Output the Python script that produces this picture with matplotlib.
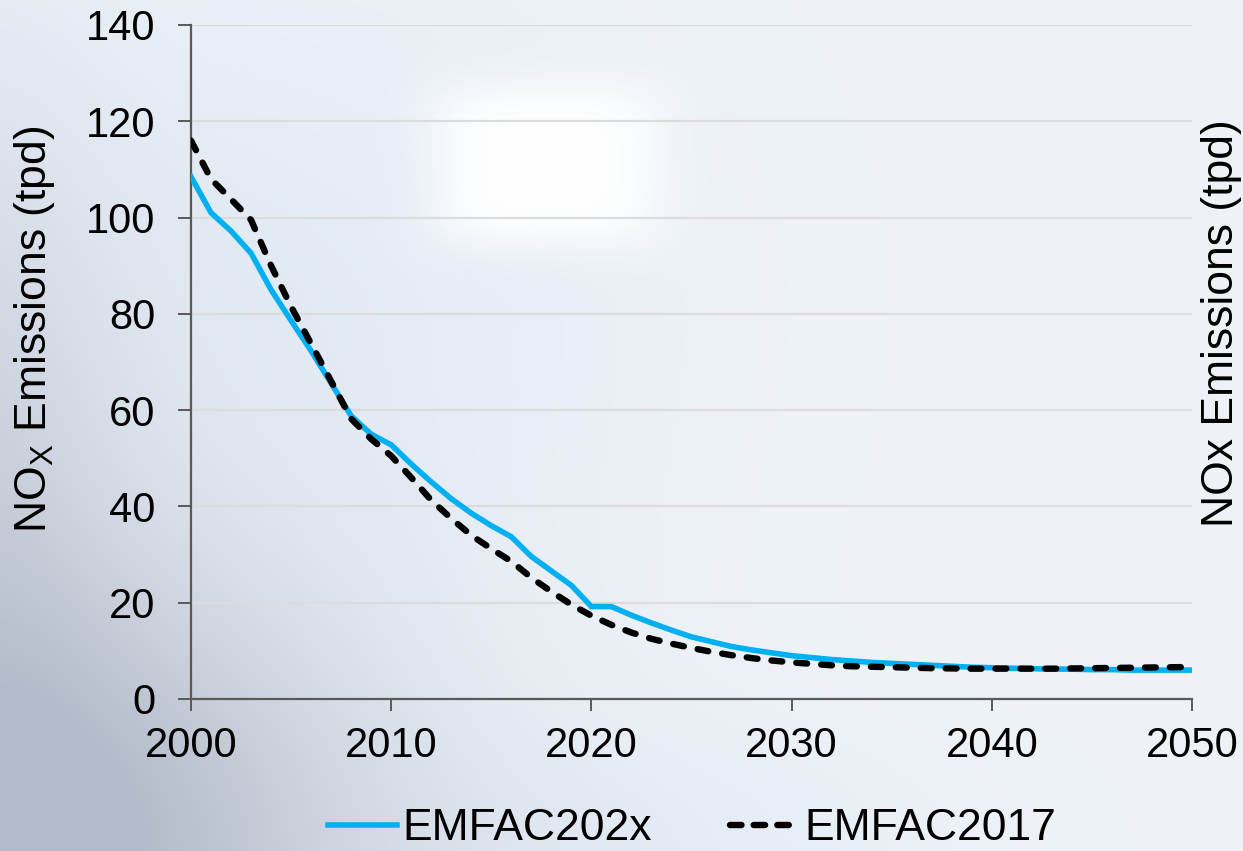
import numpy as np
import matplotlib
matplotlib.use("Agg")
import matplotlib.pyplot as plt
from matplotlib.lines import Line2D

plt.rcParams['font.family'] = ['Liberation Sans', 'DejaVu Sans']

years = list(range(2000, 2051))

emfac202x = [108.5, 101.0, 97.2, 92.6, 85.0, 78.6, 72.3, 65.6, 58.8, 55.0,
             52.8, 48.8, 45.1, 41.6, 38.6, 36.0, 33.7, 29.6, 26.6, 23.6,
             19.2, 19.2, 17.4, 15.8, 14.3, 12.9, 11.9, 10.9, 10.2, 9.6,
             9.0, 8.6, 8.2, 7.9, 7.6, 7.4, 7.2, 7.0, 6.8, 6.6,
             6.5, 6.4, 6.3, 6.2, 6.2, 6.1, 6.1, 6.0, 6.0, 6.0, 6.0]

emfac2017 = [116.0, 108.0, 103.8, 99.5, 90.0, 81.5, 73.8, 66.0, 58.2, 54.0,
             50.5, 46.0, 41.3, 37.5, 34.0, 31.2, 28.6, 25.2, 22.3, 19.6,
             17.3, 15.4, 13.8, 12.5, 11.5, 10.6, 9.8, 9.1, 8.5, 8.0,
             7.6, 7.3, 7.0, 6.8, 6.7, 6.6, 6.5, 6.4, 6.35, 6.3,
             6.3, 6.3, 6.3, 6.3, 6.35, 6.4, 6.45, 6.5, 6.55, 6.6, 6.65]

x_ticks = [2000, 2010, 2020, 2030, 2040, 2050]
y_ticks = [0, 20, 40, 60, 80, 100, 120, 140]

W, H = 1243, 851
fig = plt.figure(figsize=(W / 100, H / 100), dpi=100)

# soft slide-style backdrop
yy, xx = np.mgrid[0:H, 0:W].astype(float)
base = np.array([0.935, 0.952, 0.972])
dark = np.array([0.70, 0.73, 0.79])
blue = np.array([0.86, 0.90, 0.95])
w_dark = np.exp(-(((xx - 60) / 330) ** 2 + ((yy - 860) / 300) ** 2))
w_dark += 0.45 * np.exp(-(((xx + 40) / 160) ** 2 + ((yy - 450) / 380) ** 2))
w_dark = np.clip(w_dark, 0, 1)
w_blue = np.exp(-(((xx - 250) / 350) ** 2 + ((yy - 300) / 300) ** 2)) * 0.6
w_blue += np.exp(-(((xx - 600) / 300) ** 2 + ((yy - 850) / 120) ** 2)) * 0.5
w_blue = np.clip(w_blue, 0, 1)
w_white = np.exp(-(((xx - 545) / 120) ** 4 + ((yy - 165) / 85) ** 4))
img = base[None, None, :] * np.ones((H, W, 1))
img = img * (1 - w_blue[..., None]) + blue * w_blue[..., None]
img = img * (1 - w_dark[..., None]) + dark * w_dark[..., None]
img = img * (1 - w_white[..., None]) + np.ones(3) * w_white[..., None]
bg = fig.add_axes([0, 0, 1, 1], zorder=-10)
bg.imshow(img, aspect='auto', extent=[0, 1, 0, 1], interpolation='bilinear')
bg.axis('off')

ax = fig.add_axes([191 / W, 1 - 699 / H, (1192 - 191) / W, (699 - 25) / H])
ax.patch.set_alpha(0)

ax.plot(years, emfac202x, color='#00b0f0', lw=4.0, solid_joinstyle='miter',
        label='EMFAC202x', zorder=3)
ax.plot(years, emfac2017, color='black', lw=4.6, dashes=(1.7, 2.2),
        dash_capstyle='round', label='EMFAC2017', zorder=4)

ax.set_xlim(2000, 2050)
ax.set_ylim(0, 140)
ax.set_xticks(x_ticks)
ax.set_yticks(y_ticks)
ax.tick_params(labelsize=30, colors='black', width=1.4)
ax.tick_params(axis='both', color='#595959')
ax.tick_params(axis='x', length=8.6, pad=11)
ax.tick_params(axis='y', length=9.4, pad=16)
ax.yaxis.grid(True, color='#dcdcdc', lw=1.6)
ax.set_axisbelow(True)
for s in ['top', 'right']:
    ax.spines[s].set_visible(False)
for s in ['left', 'bottom']:
    ax.spines[s].set_color('#595959')
    ax.spines[s].set_linewidth(1.6)

fig.text(35 / W, 1 - 329 / H, 'NO$_\\mathregular{X}$ Emissions (tpd)', rotation=90,
         ha='center', va='center', fontsize=32)
fig.text(1222 / W, 1 - 323 / H, 'NOx Emissions (tpd)', rotation=90,
         ha='center', va='center', fontsize=32)

handles = [Line2D([], [], color='#00b0f0', lw=4.0),
           Line2D([], [], color='black', lw=4.6, dashes=(1.8, 1.9),
                  dash_capstyle='round')]
leg = fig.legend(handles, ['EMFAC202x', 'EMFAC2017'], loc='center',
                 bbox_to_anchor=(692 / W, 1 - 829 / H), ncol=2, frameon=False,
                 prop={'size': 32}, handlelength=1.55, handletextpad=0.12,
                 columnspacing=1.75)

fig.savefig('out.png', dpi=100)
